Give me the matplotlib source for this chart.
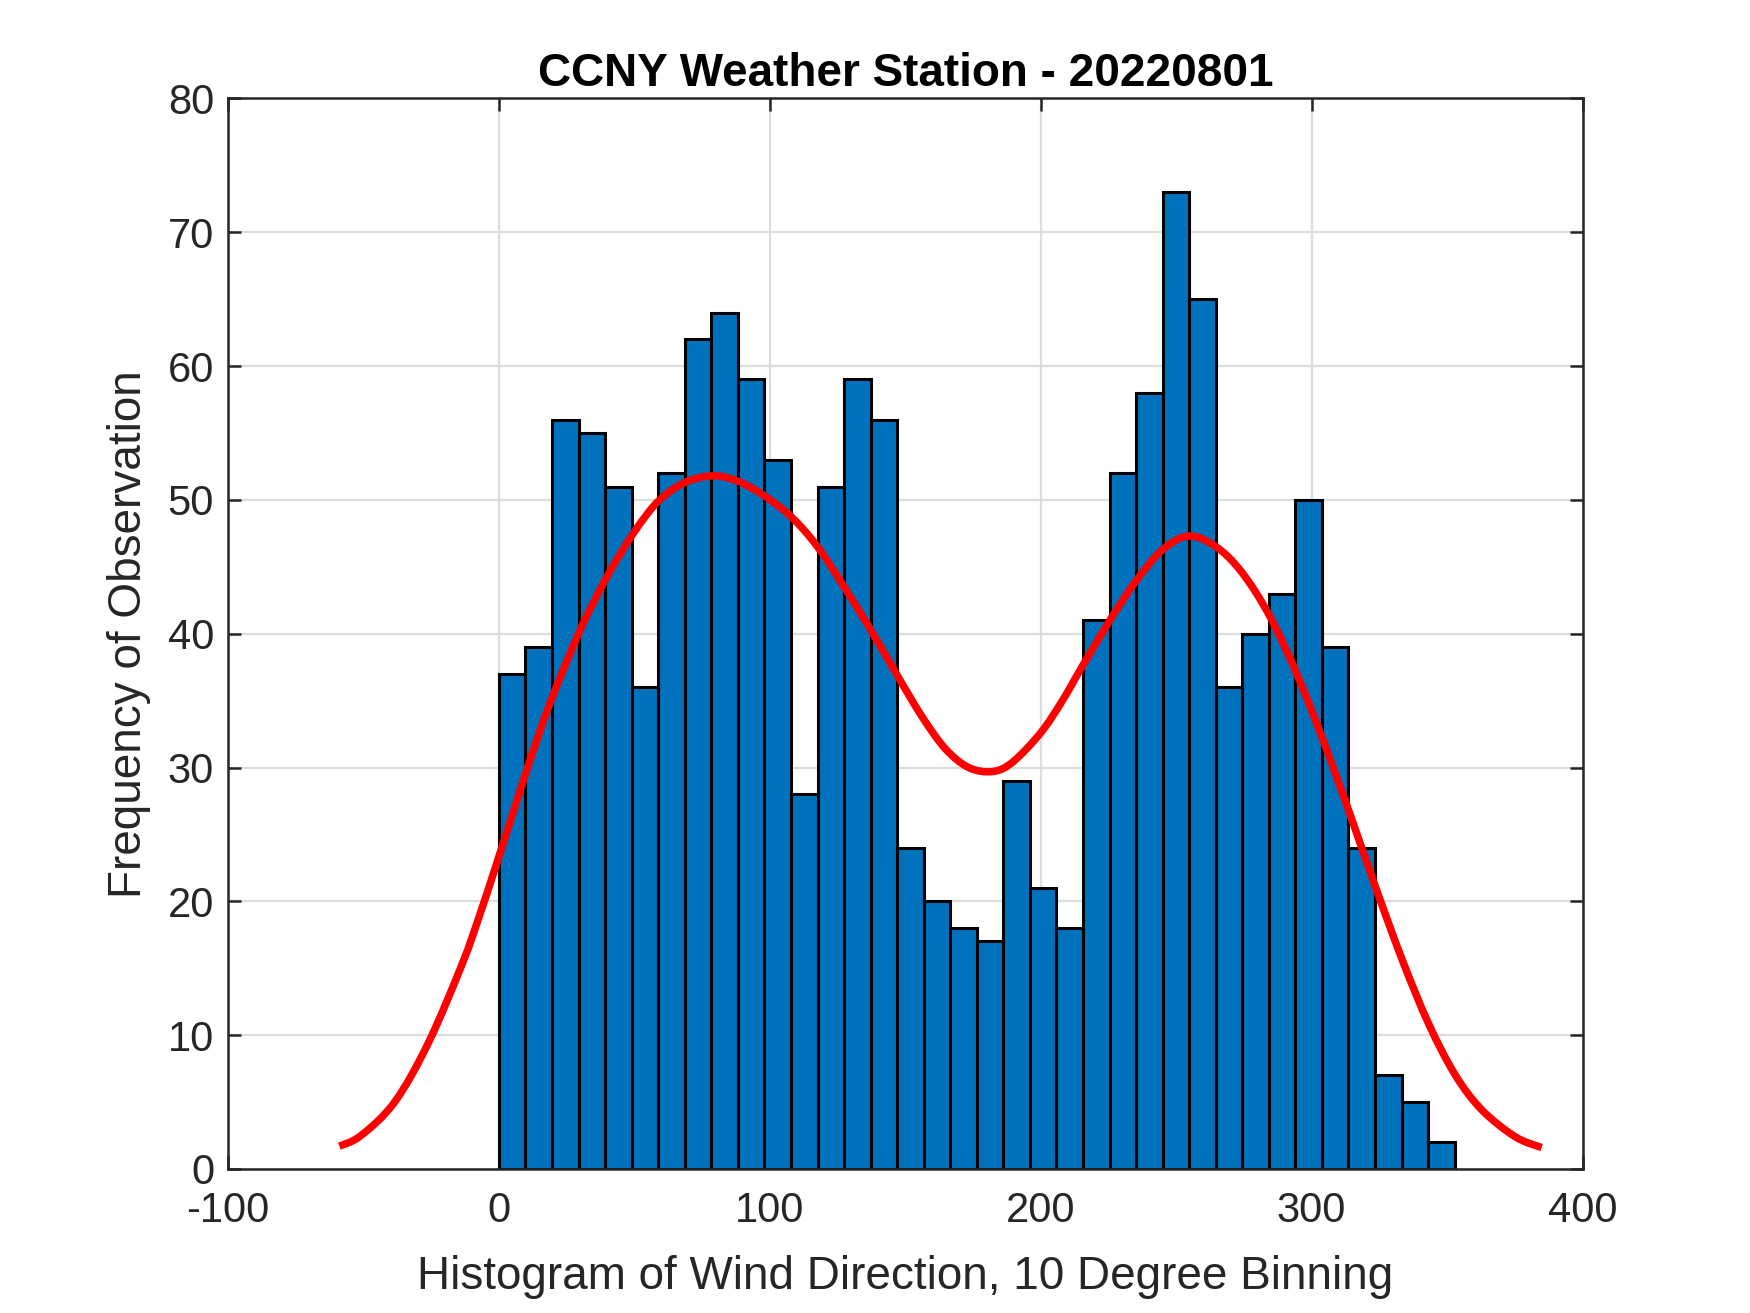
import numpy as np
import matplotlib
matplotlib.use("Agg")
import matplotlib.pyplot as plt
from matplotlib.path import Path
from matplotlib.patches import PathPatch

# -- histogram counts, 36 bins spanning 0 .. ~352.8 deg --
counts = [37, 39, 56, 55, 51, 36, 52, 62, 64, 59, 53, 28, 51, 59, 56, 24, 20, 18,
          17, 29, 21, 18, 41, 52, 58, 73, 65, 36, 40, 43, 50, 39, 24, 7, 5, 2]
bin_lo = 0.0
bin_hi = 352.8

# -- fitted curve --
fit_x = [-58.9, -50.9, -38.5, -26.1, -13.6, -7.4, -1.2, 5.0, 11.2, 19.2, 29.8, 39.7,
         49.6, 58.8, 68.6, 79.0, 88.2, 98.0, 108.1, 117.6, 127.4, 137.2, 147.0, 156.2,
         164.8, 173.4, 182.2, 189.6, 200.0, 208.0, 215.3, 225.2, 235.0, 244.8, 254.6,
         264.7, 274.2, 284.3, 294.4, 304.2, 314.0, 323.7, 333.5, 343.3, 353.1, 362.9,
         375.2, 384.9]
fit_y = [1.7, 2.5, 5.0, 9.4, 15.3, 18.8, 22.6, 26.5, 30.4, 35.0, 40.2, 44.2,
         47.5, 49.9, 51.3, 51.8, 51.4, 50.3, 48.7, 46.5, 43.5, 40.3, 36.9, 33.8,
         31.4, 30.0, 29.7, 30.4, 32.6, 35.0, 37.55, 40.9, 43.9, 46.25, 47.3,
         46.5, 44.6, 41.4, 37.05, 32.05, 26.6, 21.0, 15.6, 10.8, 7.0, 4.4,
         2.4, 1.6]

plt.rcParams['font.family'] = ['Liberation Sans', 'DejaVu Sans']
plt.rcParams['axes.unicode_minus'] = False


def smooth_path(xs, ys):
    # draw the read points as one smooth bezier stroke (catmull-rom handles)
    p = np.column_stack([xs, ys])
    n = len(p)
    verts = [p[0]]
    codes = [Path.MOVETO]
    for i in range(n - 1):
        p0 = p[i - 1] if i > 0 else p[i]
        p3 = p[i + 2] if i + 2 < n else p[i + 1]
        c1 = p[i] + (p[i + 1] - p0) / 6.0
        c2 = p[i + 1] - (p3 - p[i]) / 6.0
        verts += [c1, c2, p[i + 1]]
        codes += [Path.CURVE4] * 3
    return Path(verts, codes)


fig = plt.figure(figsize=(17.5, 13.13), dpi=100)
ax = fig.add_axes([0.1303, 0.1097, 0.774, 0.8153])

edges = np.linspace(bin_lo, bin_hi, len(counts) + 1)
ax.bar(edges[:-1], counts, width=np.diff(edges), align='edge',
       color='#0072BD', edgecolor='black', linewidth=2.2, zorder=2)
ax.add_patch(PathPatch(smooth_path(fit_x, fit_y), fill=False, edgecolor='red',
                       linewidth=5.4, capstyle='butt', joinstyle='round', zorder=3))

ax.set_xlim(-100, 400)
ax.set_ylim(0, 80)
ax.set_xticks(np.arange(-100, 401, 100))
ax.set_yticks(np.arange(0, 81, 10))

ax.set_axisbelow(True)
ax.grid(True, color='#dcdcdc', linewidth=1.6)
for s in ax.spines.values():
    s.set_color('#262626')
    s.set_linewidth(1.8)
ax.tick_params(direction='in', length=9.5, width=1.8, color='#262626',
               labelcolor='#262626', labelsize=30, top=True, right=True)
ax.tick_params(axis='x', pad=16)
ax.tick_params(axis='y', pad=10)

ax.set_title('CCNY Weather Station - 20220801', fontsize=33, fontweight='bold',
             color='black', pad=9)
ax.set_xlabel('Histogram of Wind Direction, 10 Degree Binning', fontsize=33,
              color='#262626')
ax.set_ylabel('Frequency of Observation', fontsize=33, color='#262626')
ax.xaxis.set_label_coords(0.5, -0.080)
ax.yaxis.set_label_coords(-0.057, 0.5)

fig.savefig('out.png', dpi=100, facecolor='white')
